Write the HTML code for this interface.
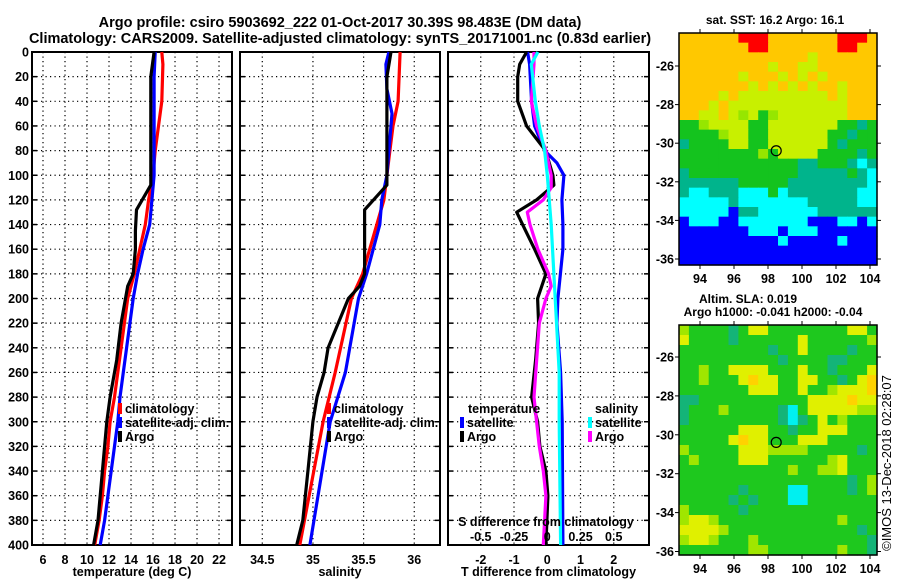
<!DOCTYPE html>
<html><head><meta charset="utf-8"><style>
html,body{margin:0;padding:0;background:#fff}
svg{display:block;font-family:"Liberation Sans",sans-serif;font-weight:bold}
</style></head><body>
<svg id="fig" width="900" height="580" viewBox="0 0 900 580" xmlns="http://www.w3.org/2000/svg">
<text x="340" y="27" font-size="14.5" text-anchor="middle">Argo profile: csiro 5903692_222 01-Oct-2017 30.39S 98.483E (DM data)</text>
<text x="340" y="43" font-size="14.5" text-anchor="middle">Climatology: CARS2009. Satellite-adjusted climatology: synTS_20171001.nc (0.83d earlier)</text>
<g id="p1"></g>
<g id="p2"></g>
<g id="p3"></g>
<g id="m1"></g>
<g id="m2"></g>
<text x="775" y="24" font-size="12" text-anchor="middle">sat. SST: 16.2 Argo: 16.1</text>
<text x="748" y="303" font-size="12" text-anchor="middle">Altim. SLA: 0.019</text>
<text x="773" y="316" font-size="12" text-anchor="middle">Argo h1000: -0.041 h2000: -0.04</text>
<text transform="translate(891,463) rotate(-90)" font-size="13" font-weight="normal" text-anchor="middle">©IMOS 13-Dec-2018 02:28:07</text>
</svg>
<script>
// ---------- data ----------
const tDepthRed=[0,10,40,60,80,100,120,140,160,180,200,220,240,260,280,300,320,340,360,380,400];
const tRed=[16.8,16.9,16.8,16.5,16.2,16.0,15.6,15.3,14.8,14.3,13.7,13.4,13.1,12.8,12.5,12.1,11.9,11.6,11.4,11.1,10.7];
const tDepthBlue=[0,20,100,120,140,160,180,200,220,240,260,280,300,320,340,360,380,400];
const tBlue=[16.2,16.1,16.1,15.9,15.7,15.1,14.6,14.2,13.9,13.6,13.3,13.0,12.8,12.5,12.2,11.9,11.6,11.2];
const tDepthArgo=[0,20,100,108,128,145,160,180,190,200,220,250,280,300,340,380,400];
const tArgo=[16.1,15.8,15.8,15.8,14.5,14.4,14.4,14.2,13.7,13.5,13.1,12.7,12.1,11.8,11.4,11.0,10.6];
const sDepthRed=[0,40,60,80,100,120,140,160,180,200,260,300,400];
const sRed=[35.86,35.84,35.79,35.76,35.73,35.70,35.63,35.56,35.49,35.38,35.22,35.10,34.87];
const sDepthBlue=[0,10,30,50,80,100,120,140,180,200,260,300,400];
const sBlue=[35.75,35.72,35.73,35.78,35.75,35.73,35.68,35.66,35.53,35.45,35.32,35.17,34.97];
const sDepthArgo=[0,20,108,128,150,180,190,200,240,260,280,300,340,380,400];
const sArgo=[35.77,35.73,35.73,35.51,35.51,35.51,35.46,35.35,35.15,35.11,35.04,35.00,34.95,34.90,34.84];
const dDepthA=[0,10,20,40,60,80,100,108,120,130,140,160,180,200,220,250,280,300,320,340,360,400];
const dTArgo=[-0.62,-0.83,-0.89,-0.89,-0.62,-0.05,0.17,0.2,-0.32,-0.92,-0.74,-0.38,-0.04,-0.29,-0.26,-0.35,-0.47,-0.29,-0.22,-0.04,0.02,-0.04];
const dDepthB=[0,10,40,60,80,90,100,120,140,160,200,220,260,300,400];
const dTSat=[-0.59,-0.53,-0.47,-0.38,-0.08,0.29,0.5,0.44,0.47,0.47,0.32,0.29,0.4,0.45,0.47];
const dDepthM=[0,10,40,60,80,100,110,120,130,140,160,180,190,200,220,280,300,320,340,360,400];
const dSArgo=[-0.10,-0.10,-0.12,-0.08,-0.01,0.03,0.03,-0.03,-0.15,-0.13,-0.07,0.01,0.03,-0.01,-0.06,-0.10,-0.08,-0.06,-0.03,-0.01,-0.03];
const dDepthC=[0,10,40,60,80,100,140,200,260,300,400];
const dSSat=[-0.07,-0.12,-0.09,-0.06,-0.02,0.0,0.03,0.06,0.09,0.09,0.10];
const depthTicks=[0,20,40,60,80,100,120,140,160,180,200,220,240,260,280,300,320,340,360,380,400];
const tTicks=[6,8,10,12,14,16,18,20,22];
const sTicks=[34.5,35,35.5,36];
const dTicks=[-2,-1,0,1,2];
const dsTickLabels=["-0.5","-0.25","0","0.25","0.5"];
const dsTicks=[-0.5,-0.25,0,0.25,0.5];
const sstGrid=[
"oooooorrrooooooorrro","ooooooorrooooooorroo","oooooooooooooyoooooo","oooooooooyooyyoooooo",
"ooooooyoooyoyoyooooo","oooooooyoyoyoyooyooo","ooooyoyyyyyyyyyoyooo","oooyoyyyyyyyyyyyyooo",
"ooyyoylyglyyyyyyyooo","gglyyyyggyyyyyyyggtg","gggglyyggyyyyyyggtgg","tggggyyggyyyyyygtggg",
"gggggggglgyyyyggggtg","ggggggggggggttgggtct","tgggggggggggtttttgtc","ttttttgggggttttttttc",
"tcctttcccgctttttttcc","ccccctccccccctttttcc","cccccbttcccccctttttt","bcccbbcccccccbbbccbc",
"bbbbbbbcccbcccbbbbbb","bbbbbbbbbbcbbbbbcbbb","bbbbbbbbbbbbbbbbbbbb","bbbbbbbbbbbbbbbbbbbb"];
const slaGrid=[
"lggggtgyyggggggggyyg","yggggtggggggyggggggl","gggggggggtggyggggtgg","ggggggggggtggggttggg",
"gglggyyyygggyggtgggy","gglgggyoyyggyyggtgyo","gggggggyyyggygglyyyo","ttgggggggggggyyyyoyy",
"tggglgggggtcgyyyyyll","tgggggggggtctgyglggg","ggggggyyyggtggyyyggg","gggggyoyygggyyyggggg",
"lgggggyyyllllgggggtg","glggggyyygggggglyggg","ggggggggggglggllyggg","gggggggggggggggggtgl",
"ggggggtggggccggggtgl","gggggtgtgggccggggggg","lgggggtggggggggggggg","lyylgggggggggggglggg",
"yyyylgggggggggggggtg","lyylggglgggggggggggt","gggggggllggggggglggt"];
const lonTicks=[94,96,98,100,102,104];
const latTicks=[-26,-28,-30,-32,-34,-36];
const argoLon=98.483, argoLat=-30.39;
// ---------- helpers ----------
const NS="http://www.w3.org/2000/svg";
function mk(tag,attrs,parent){const e=document.createElementNS(NS,tag);for(const k in attrs)e.setAttribute(k,attrs[k]);parent.appendChild(e);return e;}
const top0=52,bot0=545;
const yD=d=>top0+(bot0-top0)*d/400;
function panel(g,x0,x1,v0,v1,xt,xtl,xlabel,showY){
  const xs=v=>x0+(x1-x0)*(v-v0)/(v1-v0);
  xt.forEach((v,i)=>{const X=xs(v);
    let l=mk('line',{x1:X,x2:X,y1:top0,y2:bot0,stroke:'#000','stroke-width':1.2,'stroke-dasharray':'1.2 3.3'},g);
    
    let t=mk('text',{x:X,y:bot0+19,'font-size':12.5,'text-anchor':'middle'},g);t.textContent=xtl[i];
    });
  depthTicks.forEach(d=>{const Y=yD(d);
    if(d>0&&d<400){let l=mk('line',{x1:x0,x2:x1,y1:Y,y2:Y,stroke:'#000','stroke-width':1.2,'stroke-dasharray':'1.2 3.3'},g);
    }
    mk('line',{x1:x0,x2:x0+5,y1:Y,y2:Y,stroke:'#000','stroke-width':1.5},g);
    mk('line',{x1:x1-5,x2:x1,y1:Y,y2:Y,stroke:'#000','stroke-width':1.5},g);
    if(showY){let t=mk('text',{x:x0-3,y:Y+4.5,'font-size':12.5,'text-anchor':'end'},g);t.textContent=d;
    }});
  let f=mk('rect',{x:x0,y:top0,width:x1-x0,height:bot0-top0,fill:'none',stroke:'#000','stroke-width':2},g);
  
  let xl=mk('text',{x:(x0+x1)/2,y:576,'font-size':12.5,'text-anchor':'middle'},g);xl.textContent=xlabel;
  
  return xs;}
function line(g,xs,vals,deps,col,name){
  const p=vals.map((v,i)=>xs(v).toFixed(1)+','+yD(deps[i]).toFixed(1)).join(' ');
  let e=mk('polyline',{points:p,fill:'none',stroke:col,'stroke-width':3.2,'stroke-linejoin':'round'},g);
  }
function legend(g,x,y,col,label,name){
  let r=mk('rect',{x:x,y:y-10,width:4,height:11,fill:col},g);
  
  if(label){let t=mk('text',{x:x+7,y:y,'font-size':12.5},g);t.textContent=label;
  }}
// ---------- panel 1 ----------
const g1=document.getElementById('p1');
const xT=panel(g1,32,232,5,23.18,tTicks,tTicks.map(String),'temperature (deg C)',true);
line(g1,xT,tRed,tDepthRed,'#f00','climatology-temperature-line');
line(g1,xT,tBlue,tDepthBlue,'#00f','satellite-adj-temperature-line');
line(g1,xT,tArgo,tDepthArgo,'#000','argo-temperature-line');
legend(g1,118,413,'#f00','climatology','legend-climatology');
legend(g1,118,427,'#00f','satellite-adj. clim.','legend-satellite-adj');
legend(g1,118,441,'#000','Argo','legend-argo');
// ---------- panel 2 ----------
const g2=document.getElementById('p2');
const xS=panel(g2,240,440,34.28,36.254,sTicks,sTicks.map(String),'salinity',false);
line(g2,xS,sRed,sDepthRed,'#f00','climatology-salinity-line');
line(g2,xS,sBlue,sDepthBlue,'#00f','satellite-adj-salinity-line');
line(g2,xS,sArgo,sDepthArgo,'#000','argo-salinity-line');
legend(g2,327,413,'#f00','climatology','legend-climatology-s');
legend(g2,327,427,'#00f','satellite-adj. clim.','legend-satellite-adj-s');
legend(g2,327,441,'#000','Argo','legend-argo-s');
// ---------- panel 3 ----------
const g3=document.getElementById('p3');
const xDT=panel(g3,448,649,-2.985,3.06,dTicks,dTicks.map(String),'T difference from climatology',false);
const xDS=v=>xDT(v*4);
line(g3,xDT,dTSat,dDepthB,'#00f','satellite-t-diff-line');
line(g3,xDT,dTArgo,dDepthA,'#000','argo-t-diff-line');
line(g3,xDS,dSArgo,dDepthM,'#f0f','argo-s-diff-line');
line(g3,xDS,dSSat,dDepthC,'#0ff','satellite-s-diff-line');
(function(){let t=mk('text',{x:468,y:413,'font-size':12.5},g3);t.textContent='temperature';

t=mk('text',{x:595,y:413,'font-size':12.5},g3);t.textContent='salinity';
})();
legend(g3,460,427,'#00f','satellite','legend-t-satellite');
legend(g3,460,441,'#000','Argo','legend-t-argo');
legend(g3,588,427,'#0ff','satellite','legend-s-satellite');
legend(g3,588,441,'#f0f','Argo','legend-s-argo');
(function(){let t=mk('text',{x:546,y:526,'font-size':12.5,'text-anchor':'middle'},g3);t.textContent='S difference from climatology';

dsTicks.forEach((v,i)=>{let l=mk('text',{x:xDS(v),y:541,'font-size':12.5,'text-anchor':'middle'},g3);l.textContent=dsTickLabels[i];
});})();
// ---------- maps ----------
const lonX=lon=>700+17*(lon-94);
function map(g,grid,colors,y0,y1,latY,name){
  const x0=679,x1=877,rows=grid.length,cols=grid[0].length,cw=(x1-x0)/cols,ch=(y1-y0)/rows;
  grid.forEach((row,r)=>{for(let c=0;c<cols;c++){
    let e=mk('rect',{x:(x0+c*cw).toFixed(2),y:(y0+r*ch).toFixed(2),width:(cw+0.6).toFixed(2),height:(ch+0.6).toFixed(2),fill:colors[row[c]]},g);
    }});
  let f=mk('rect',{x:x0,y:y0,width:x1-x0,height:y1-y0,fill:'none',stroke:'#000','stroke-width':1.5},g);
  
  lonTicks.forEach(v=>{const X=lonX(v);mk('line',{x1:X,x2:X,y1:y1,y2:y1+4,stroke:'#000'},g);mk('line',{x1:X,x2:X,y1:y0-4,y2:y0,stroke:'#000'},g);
    let t=mk('text',{x:X,y:y1+18,'font-size':12.5,'text-anchor':'middle'},g);t.textContent=v;
    });
  latTicks.forEach(v=>{const Y=latY(v);mk('line',{x1:x1,x2:x1+4,y1:Y,y2:Y,stroke:'#000'},g);mk('line',{x1:x0-4,x2:x0,y1:Y,y2:Y,stroke:'#000'},g);
    let t=mk('text',{x:x0-5,y:Y+4.5,'font-size':12.5,'text-anchor':'end'},g);t.textContent=v;
    });
  let c=mk('circle',{cx:lonX(argoLon),cy:latY(argoLat),r:5,fill:'none',stroke:'#000','stroke-width':1.2},g);
  }
map(document.getElementById('m1'),sstGrid,{o:'#ffc800',r:'#ff0000',y:'#c8f000',l:'#96e600',g:'#14c31e',t:'#00b48c',c:'#00ffff',b:'#0000ff'},33,265,lat=>66+19.3*(-26-lat),'sst-map');
map(document.getElementById('m2'),slaGrid,{g:'#1ec81e',t:'#14b478',y:'#e0f000',l:'#a0e600',o:'#ffd200',c:'#00f0f0'},325,555,lat=>357+19.45*(-26-lat),'sla-map');
</script>
</body></html>
